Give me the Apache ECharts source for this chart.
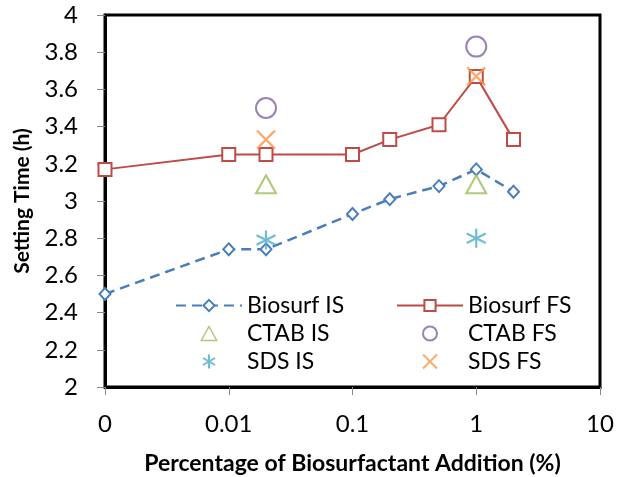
<!DOCTYPE html>
<html>
<head>
<meta charset="utf-8">
<script src="https://cdn.jsdelivr.net/npm/echarts@6/dist/echarts.min.js"></script>
<style>
  html, body { margin: 0; padding: 0; background: #fff; }
  #chart { width: 626px; height: 477px; }
</style>
</head>
<body>
<div id="chart"></div>
<script>
// x positions (log scale, "0" is drawn at 0.001)
const biosurfX = [0.001, 0.01, 0.02, 0.1, 0.2, 0.5, 1, 2]
const biosurfIS = [2.5, 2.74, 2.74, 2.93, 3.01, 3.08, 3.17, 3.05]
const biosurfFS = [3.17, 3.25, 3.25, 3.25, 3.33, 3.41, 3.67, 3.33]

const surfX = [0.02, 1]
const ctabIS = [3.09, 3.09]
const ctabFS = [3.5, 3.83]
const sdsIS = [2.79, 2.8]
const sdsFS = [3.33, 3.67]

const yTicks = ['2', '2.2', '2.4', '2.6', '2.8', '3', '3.2', '3.4', '3.6', '3.8', '4']

const pair = (xs, ys) => xs.map((x, i) => [x, ys[i]])

const FONT = 'Lato'
const asterisk = 'path://M5,0L5,10M0.7,2.5L9.3,7.5M0.7,7.5L9.3,2.5'
const cross = 'path://M0,0L10,10M10,0L0,10'
const triangle = 'path://M5,0L10,9L0,9Z'

const chart = echarts.init(document.getElementById('chart'))

const legendBase = {
  orient: 'vertical',
  top: 289,
  itemWidth: 66,
  itemHeight: 14,
  itemGap: 5,
  textStyle: { fontFamily: FONT, fontSize: 23, lineHeight: 23, color: '#000' }
}

const option = {
  animation: false,
  grid: {
    left: 105,
    right: 26,
    top: 15,
    bottom: 90,
    outerBoundsMode: 'none',
    show: true,
    borderColor: '#000',
    borderWidth: 3
  },
  legend: [
    Object.assign({}, legendBase, {
      left: 170,
      data: [
        'Biosurf IS',
        { name: 'CTAB IS', icon: triangle, itemStyle: { color: '#fff', borderColor: '#9bbb59', borderWidth: 1.5 } },
        'SDS IS'
      ]
    }),
    Object.assign({}, legendBase, { left: 391, data: ['Biosurf FS', 'CTAB FS', 'SDS FS'] })
  ],
  xAxis: {
    type: 'log',
    logBase: 10,
    min: 0.001,
    max: 10,
    name: 'Percentage of Biosurfactant Addition (%)',
    nameLocation: 'middle',
    nameGap: 65,
    nameTextStyle: { fontFamily: FONT, fontSize: 23, fontWeight: 'bold', color: '#000' },
    axisLine: { show: true, lineStyle: { color: '#000', width: 3 } },
    axisTick: { show: true, length: 8, lineStyle: { color: '#888' } },
    splitLine: { show: false },
    minorTick: { show: false },
    axisLabel: {
      margin: 25,
      fontFamily: FONT,
      fontSize: 24,
      color: '#000',
      formatter: v => (v < 0.005 ? '0' : String(+v.toPrecision(3)))
    }
  },
  yAxis: {
    type: 'value',
    min: 2,
    max: 4,
    interval: 0.2,
    name: 'Setting Time (h)',
    nameLocation: 'middle',
    nameGap: 72,
    nameTextStyle: { fontFamily: FONT, fontSize: 21, fontWeight: 'bold', color: '#000' },
    axisLine: { show: true, lineStyle: { color: '#000', width: 3 } },
    axisTick: { show: true, length: 8, lineStyle: { color: '#888' } },
    splitLine: { show: false },
    axisLabel: {
      margin: 27,
      fontFamily: FONT,
      fontSize: 24,
      color: '#000',
      formatter: (v, i) => yTicks[i] !== undefined ? yTicks[i] : String(v)
    }
  },
  series: [
    {
      name: 'Biosurf IS',
      type: 'line',
      data: pair(biosurfX, biosurfIS),
      symbol: 'emptyDiamond',
      symbolSize: [11, 12],
      lineStyle: { color: '#4a7ebb', width: 2.5, type: [10, 6] },
      itemStyle: { color: '#4a7ebb', borderWidth: 2 }
    },
    {
      name: 'Biosurf FS',
      type: 'line',
      data: pair(biosurfX, biosurfFS),
      symbol: 'emptyRect',
      symbolSize: 13,
      lineStyle: { color: '#be4b48', width: 2 },
      itemStyle: { color: '#be4b48', borderWidth: 2 }
    },
    {
      name: 'CTAB IS',
      type: 'scatter',
      z: 3,
      data: pair(surfX, ctabIS),
      symbol: 'emptyTriangle',
      symbolSize: [20, 18],
      itemStyle: { color: '#9bbb59', borderWidth: 2 }
    },
    {
      name: 'CTAB FS',
      type: 'scatter',
      z: 3,
      data: pair(surfX, ctabFS),
      symbol: 'emptyCircle',
      symbolSize: 20,
      itemStyle: { color: '#8064a2', borderWidth: 2 }
    },
    {
      name: 'SDS IS',
      type: 'scatter',
      z: 3,
      data: pair(surfX, sdsIS),
      symbol: asterisk,
      symbolSize: 19,
      itemStyle: { color: 'transparent', borderColor: '#4bacc6', borderWidth: 2.2 }
    },
    {
      name: 'SDS FS',
      type: 'scatter',
      z: 3,
      data: pair(surfX, sdsFS),
      symbol: cross,
      symbolSize: 18,
      itemStyle: { color: 'transparent', borderColor: '#f79646', borderWidth: 2.2 }
    }
  ]
}

chart.setOption(option)

window.addEventListener('resize', () => chart.resize())
</script>
</body>
</html>
